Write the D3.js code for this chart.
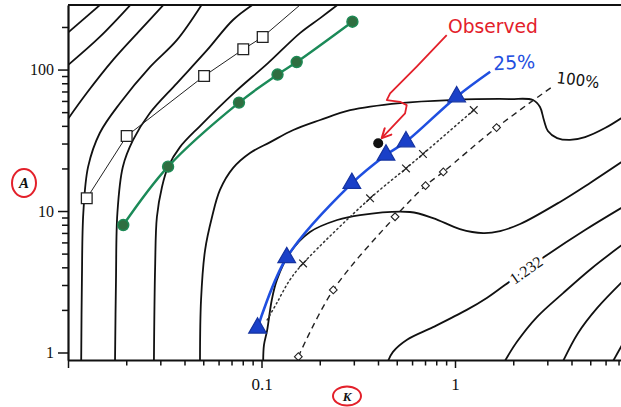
<!DOCTYPE html>
<html><head><meta charset="utf-8">
<script src="https://cdn.jsdelivr.net/npm/d3@7"></script>
<style>body{margin:0;background:#fff}svg{display:block}</style>
</head><body>
<svg id="chart" width="621" height="407"></svg>
<script>
// ---------- data (K, A) ----------
const xMajorTicks = [0.01, 0.1, 1, 10];
const xLabels = [0.1, 1];
const xMinorTicks = [0.02,0.03,0.04,0.05,0.06,0.07,0.08,0.09,0.2,0.3,0.4,0.5,0.6,0.7,0.8,0.9,2,3,4,5,6,7,8,9];
const yMajorTicks = [1, 10, 100];
const yMinorTicks = [2,3,4,5,6,7,8,9,20,30,40,50,60,70,80,90,200];

const contour1 = [[0.0098,178],[0.0148,290]];
const contour2 = [[0.0098,105],[0.0146,170],[0.0212,290]];
const contour3 = [[0.0098,43],[0.0125,68.2],[0.0171,117],[0.0236,190],[0.0314,290]];
const contour4 = [[0.0117,0.87],[0.0118,3.25],[0.0120,9.68],[0.0127,20.5],[0.0146,35.6],[0.0186,58.0],[0.0265,104],[0.0366,162],[0.0493,290]];
const contour5 = [[0.0175,0.87],[0.0177,3.25],[0.0180,9.68],[0.0192,20.5],[0.0217,31.8],[0.0265,49.3],[0.0366,80.3],[0.0523,137],[0.0712,224],[0.091,290]];
const contour6 = [[0.0278,0.87],[0.0282,4.02],[0.0288,9.07],[0.0306,14.8],[0.0329,20.5],[0.0379,28.3],[0.0481,39.9],[0.0729,69.3],[0.108,111],[0.158,181],[0.201,231],[0.25,290]];
const contour7 = [[0.0481,0.87],[0.0487,2.35],[0.0511,5.30],[0.0555,9.07],[0.0610,14.1],[0.0712,20.1],[0.0872,25.7],[0.111,30.7],[0.146,37.4],[0.201,44.0],[0.287,51.7],[0.520,58.0],[0.942,60.9],[1.92,61.9],[2.53,60.9],[2.75,54.3],[2.88,44.0],[3.02,36.8],[3.37,32.8],[3.93,31.8],[4.70,33.3],[5.96,38.6],[7.65,47.7]];
const contour8 = [[0.102,0.87],[0.103,1.13],[0.107,1.44],[0.113,2.35],[0.120,3.25],[0.140,5.05],[0.178,7.11],[0.246,8.64],[0.323,9.37],[0.585,9.84],[0.770,8.92],[1.06,7.46],[1.40,6.99],[1.71,7.22],[2.17,8.09],[3.49,11.6],[4.99,15.8],[7.65,23.3]];
const contour9 = [[0.451,0.87],[0.478,1.01],[0.565,1.23],[0.770,1.51],[1.15,2.00],[1.46,2.43],[1.81,3.00],[2.99,4.89],[4.70,7.34],[7.65,11.0]];
const contour10 = [[1.81,0.87],[2.09,1.19],[2.65,1.78],[3.62,2.63],[5.11,3.96],[7.65,6.04]];
const contour11 = [[3.62,0.87],[4.32,1.37],[5.42,2.06],[7.56,3.31]];
const contour12 = [[6.56,0.87],[7.6,1.25]];
const contourLabel = {text: "1.232", K: 2.33, A: 3.83};

// open squares, thin line
const squareK = [0.0125, 0.0201, 0.0505, 0.0805, 0.1014];
const squareA = [12.3, 33.9, 90.0, 139, 170];
const squareLineTail = [0.160, 290];

// green circles
const greenK = [0.0193, 0.0329, 0.0765, 0.121, 0.152, 0.295];
const greenA = [7.96, 20.6, 58.4, 92.2, 113, 218];

// blue triangles (25%)
const blueK = [0.0954, 0.135, 0.293, 0.440, 0.558, 1.02];
const blueA = [1.49, 4.69, 15.7, 24.9, 30.9, 64.3];
const blueTail = [1.52, 96.5];

// dotted line with crosses
const dotLineK = [0.107, 0.120, 0.140, 0.164, 0.364, 0.558, 0.683, 1.25];
const dotLineA = [1.70, 2.24, 3.25, 4.26, 12.3, 20.0, 25.3, 51.7];
const crossK = [0.164, 0.364, 0.558, 0.683, 1.25];
const crossA = [4.26, 12.3, 20.0, 25.3, 51.7];

// dashed line with small squares (100%)
const dashSqK = [0.155, 0.235, 0.490, 0.704, 0.870, 1.64];
const dashSqA = [0.934, 2.77, 9.11, 15.1, 18.9, 38.9];
const dashTail = [3.22, 76.5];

// observed point and annotation
const observed = [0.401, 30.1];
const arrowK = [0.906, 0.634, 0.462, 0.444, 0.520, 0.563, 0.552, 0.418];
const arrowA = [175, 105, 67.9, 60.9, 59.2, 56.1, 49.0, 32.7];
const notes = [
  {text: "Observed", K: 1.57, A: 203, color: "#e3202a", size: 19, rot: 0, len: 90},
  {text: "25%", K: 2.02, A: 113, color: "#1f4fe0", size: 19, rot: -3, len: 42},
  {text: "100%", K: 4.32, A: 84.3, color: "#111", size: 16, rot: 7, len: 43}
];

// ---------- drawing ----------
const svg = d3.select("#chart");
const x = d3.scaleLog().domain([0.01, 10]).range([68, 648.5]);
const y = d3.scaleLog().domain([0.885, 286]).range([360, 5]);
const zip = (a, b) => a.map((v, i) => [v, b[i]]);

const defs = svg.append("defs");
defs.append("clipPath").attr("id", "clip").append("rect")
  .attr("x", x(0.01)).attr("y", y(286)).attr("width", 600).attr("height", y(0.885) - y(286));
defs.append("marker").attr("id", "arrowhead").attr("viewBox", "0 0 12 12")
  .attr("refX", 11).attr("refY", 6).attr("markerWidth", 12).attr("markerHeight", 12)
  .attr("markerUnits", "userSpaceOnUse").attr("orient", "auto")
  .append("path").attr("d", "M1,1 L11,6 L1,11").attr("fill", "none")
  .attr("stroke", "#e3202a").attr("stroke-width", 2);

const plot = svg.append("g").attr("clip-path", "url(#clip)");
const smooth = d3.line().x(d => x(d[0])).y(d => y(d[1])).curve(d3.curveCatmullRom.alpha(0.5));
const straight = d3.line().x(d => x(d[0])).y(d => y(d[1]));

const contours = [contour1, contour2, contour3, contour4, contour5, contour6,
                  contour7, contour8, contour9, contour10, contour11, contour12];
contours.forEach(c => plot.append("path").attr("d", smooth(c))
  .attr("fill", "none").attr("stroke", "#111").attr("stroke-width", 1.8));

// contour label
{
  const p1 = contour9[6], p2 = contour9[7];
  const ang = Math.atan2(y(p2[1]) - y(p1[1]), x(p2[0]) - x(p1[0])) * 180 / Math.PI;
  const lx = x(contourLabel.K), ly = y(contourLabel.A);
  plot.append("text").attr("x", lx).attr("y", ly)
    .attr("transform", `rotate(${ang},${lx},${ly})`)
    .attr("text-anchor", "middle").attr("dominant-baseline", "central")
    .attr("font-family", "Liberation Serif, serif").attr("font-size", 16)
    .attr("fill", "#111").attr("stroke", "#fff").attr("stroke-width", 7)
    .attr("paint-order", "stroke").text(contourLabel.text);
}

// dashed 100% line
plot.append("path").attr("d", smooth(zip(dashSqK, dashSqA).concat([dashTail])))
  .attr("fill", "none").attr("stroke", "#222").attr("stroke-width", 1.4)
  .attr("stroke-dasharray", "6,4.5");
plot.selectAll(".dsq").data(zip(dashSqK, dashSqA)).join("path")
  .attr("d", d3.symbol().type(d3.symbolSquare).size(30))
  .attr("transform", d => `translate(${x(d[0])},${y(d[1])}) rotate(45)`)
  .attr("fill", "#fff").attr("stroke", "#222").attr("stroke-width", 1.1);

// dotted line with crosses
plot.append("path").attr("d", smooth(zip(dotLineK, dotLineA)))
  .attr("fill", "none").attr("stroke", "#333").attr("stroke-width", 1.5)
  .attr("stroke-dasharray", "1.4,3.2").attr("stroke-linecap", "round");
plot.selectAll(".cross").data(zip(crossK, crossA)).join("path")
  .attr("d", d3.symbol().type(d3.symbolX).size(40))
  .attr("transform", d => `translate(${x(d[0])},${y(d[1])})`)
  .attr("fill", "none").attr("stroke", "#222").attr("stroke-width", 1.2);

// thin square line
plot.append("path").attr("d", straight(zip(squareK, squareA).concat([squareLineTail])))
  .attr("fill", "none").attr("stroke", "#222").attr("stroke-width", 1);
plot.selectAll(".sq").data(zip(squareK, squareA)).join("path")
  .attr("d", d3.symbol().type(d3.symbolSquare).size(115))
  .attr("transform", d => `translate(${x(d[0])},${y(d[1])})`)
  .attr("fill", "#fff").attr("stroke", "#222").attr("stroke-width", 1.3);

// green circles
plot.append("path").attr("d", smooth(zip(greenK, greenA)))
  .attr("fill", "none").attr("stroke", "#1b8a58").attr("stroke-width", 2.4);
plot.selectAll(".gc").data(zip(greenK, greenA)).join("circle")
  .attr("cx", d => x(d[0])).attr("cy", d => y(d[1])).attr("r", 5.5)
  .attr("fill", "#2f6e40").attr("stroke", "#1d8a55").attr("stroke-width", 1.4);

// blue 25% line with triangles
plot.append("path").attr("d", smooth(zip(blueK, blueA).concat([blueTail])))
  .attr("fill", "none").attr("stroke", "#1f4fe0").attr("stroke-width", 2.6);
plot.selectAll(".tri").data(zip(blueK, blueA)).join("path")
  .attr("d", d3.symbol().type(d3.symbolTriangle).size(135))
  .attr("transform", d => `translate(${x(d[0])},${y(d[1])})`)
  .attr("fill", "#1a40c8").attr("stroke", "#1533a0").attr("stroke-width", 1.2);

// observed point
plot.append("circle").attr("cx", x(observed[0])).attr("cy", y(observed[1])).attr("r", 5)
  .attr("fill", "#111");

// red arrow
plot.append("path").attr("d", straight(zip(arrowK, arrowA)))
  .attr("fill", "none").attr("stroke", "#e3202a").attr("stroke-width", 1.8)
  .attr("stroke-linejoin", "round").attr("marker-end", "url(#arrowhead)");

// hand notes
notes.forEach(n => {
  const nx = x(n.K), ny = y(n.A);
  svg.append("text").attr("x", nx).attr("y", ny)
    .attr("transform", `rotate(${n.rot},${nx},${ny})`)
    .attr("text-anchor", "middle").attr("dominant-baseline", "central")
    .attr("font-family", "DejaVu Sans, sans-serif").attr("font-size", n.size)
    .attr("textLength", n.len).attr("lengthAdjust", "spacingAndGlyphs")
    .attr("fill", n.color).text(n.text);
});

// ---------- axes ----------
const axisFont = "Liberation Serif, serif";
const gx = svg.append("g").attr("transform", `translate(0,${y(0.885)})`);
gx.call(d3.axisBottom(x).tickValues(xMajorTicks).tickSize(8).tickSizeOuter(0)
  .tickPadding(10).tickFormat(d => xLabels.includes(d) ? String(d) : ""));
const gxm = svg.append("g").attr("transform", `translate(0,${y(0.885)})`);
gxm.call(d3.axisBottom(x).tickValues(xMinorTicks).tickSize(5.5).tickSizeOuter(0).tickFormat(""));
gxm.select(".domain").remove();

const gy = svg.append("g").attr("transform", `translate(${x(0.01)},0)`);
gy.call(d3.axisLeft(y).tickValues(yMajorTicks).tickSize(10).tickSizeOuter(0)
  .tickPadding(4).tickFormat(d => String(d)));
const gym = svg.append("g").attr("transform", `translate(${x(0.01)},0)`);
gym.call(d3.axisLeft(y).tickValues(yMinorTicks).tickSize(6).tickSizeOuter(0).tickFormat(""));
gym.select(".domain").remove();

[gx, gxm, gy, gym].forEach(g => {
  g.selectAll(".domain").attr("stroke", "#111").attr("stroke-width", 2.2);
  g.selectAll(".tick line").attr("stroke", "#111").attr("stroke-width", 1.5);
  g.selectAll(".tick text").attr("font-family", axisFont).attr("fill", "#111");
});
gx.selectAll(".tick text").attr("font-size", 17);
gy.selectAll(".tick text").attr("font-size", 16);

// top frame
svg.append("line").attr("x1", x(0.01)).attr("x2", 621).attr("y1", y(286)).attr("y2", y(286))
  .attr("stroke", "#111").attr("stroke-width", 2.2);

// axis titles (red circled)
function circledLabel(cx, cy, rx, ry, t, fs) {
  svg.append("ellipse").attr("cx", cx).attr("cy", cy).attr("rx", rx).attr("ry", ry)
    .attr("fill", "none").attr("stroke", "#e3202a").attr("stroke-width", 2);
  svg.append("text").attr("x", cx).attr("y", cy).attr("text-anchor", "middle")
    .attr("dominant-baseline", "central").attr("font-family", axisFont)
    .attr("font-style", "italic").attr("font-weight", "bold").attr("font-size", fs)
    .attr("fill", "#111").text(t);
}
circledLabel(24, 183, 12, 14, "A", 15);
circledLabel(347, 396, 14, 9.5, "K", 13);
</script>
</body></html>
